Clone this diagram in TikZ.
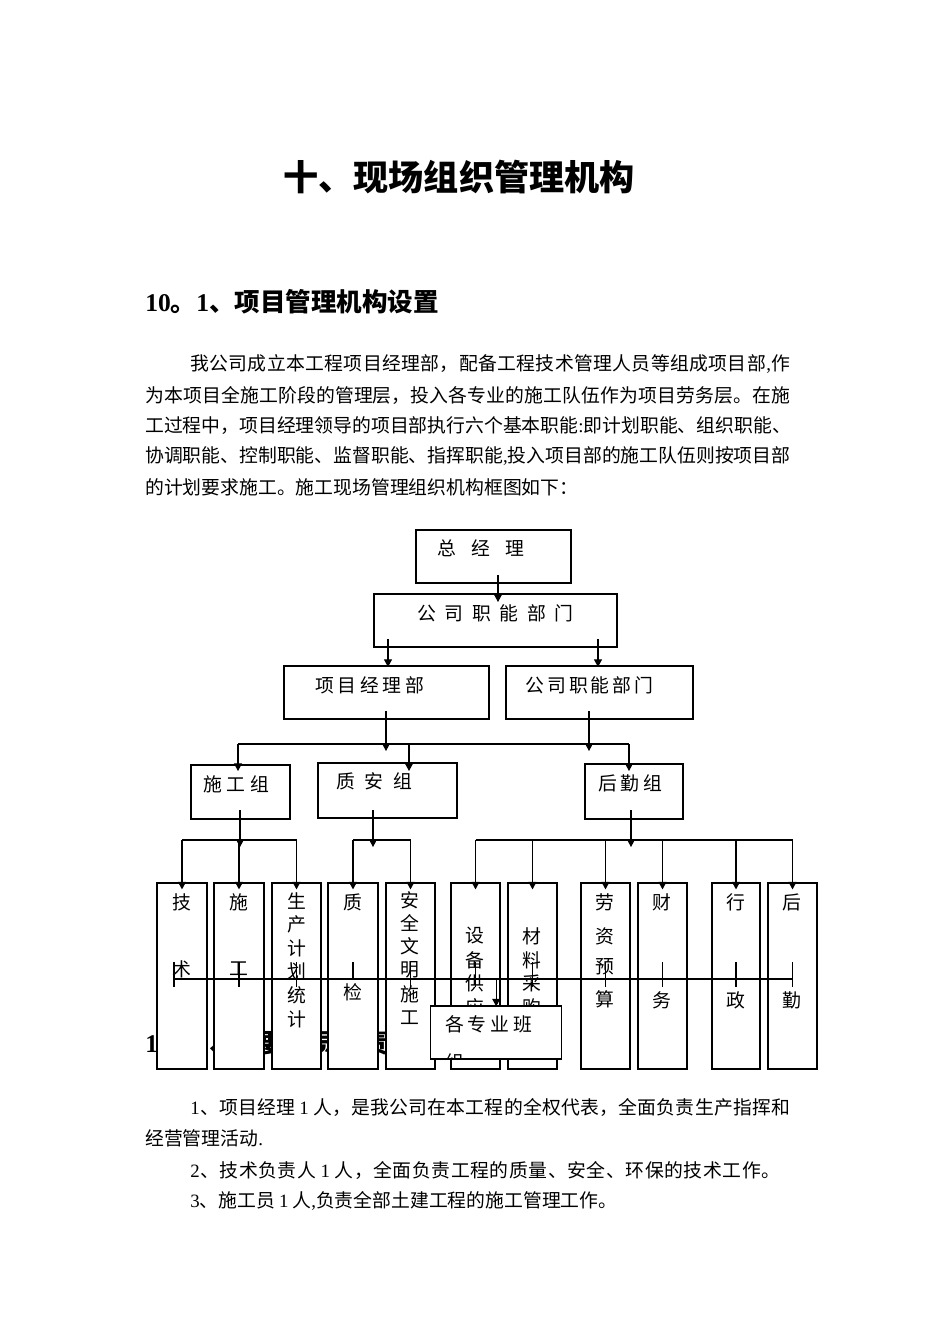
\documentclass[tikz,border=0pt]{standalone}
\usepackage{fontspec}
\setmainfont{Noto Sans CJK SC}
\newfontfamily\lat{Liberation Serif}
\usetikzlibrary{arrows.meta,fit,calc}
\XeTeXlinebreaklocale "zh"
\XeTeXlinebreakskip=0pt plus 8pt
\makeatletter
\def\ls#1#2{\def\ls@gap{#1}\ls@loop#2\relax}
\def\ls@loop#1{\ifx#1\relax\else#1\hspace{\ls@gap}\expandafter\ls@loop\fi}
\def\J#1{\J@first#1\relax}
\def\J@first#1{#1\J@loop}
\def\J@loop#1{\ifx#1\relax\else\hskip0pt plus 1fil\relax#1\expandafter\J@loop\fi}
\def\G{\hskip0pt plus 1fil\relax}
\def\D#1{\G\hspace{2.5pt}{\lat #1}\hspace{2.5pt}\G}
\makeatother
\newcommand\jl[2]{\hbox to #1{#2}}
\newcommand\vcol[3]{\foreach \yy/\cc [count=\k] in {#3} {\node[lbl] (#1-\k) at (#2,\yy) {\cc};}}
\tikzset{
  bx/.style={draw, line width=0.75pt, inner sep=0pt, fill=white},
  lbl/.style={inner sep=0pt, font=\fontsize{11.8pt}{14pt}\selectfont},
  body/.style={inner sep=0pt, anchor=west, font=\fontsize{11.8pt}{14pt}\selectfont},
  ln/.style={line width=0.65pt},
  arr/.style={line width=0.65pt, -{Triangle[length=4.8pt,width=5pt]}},
}
\begin{document}
\begin{tikzpicture}[x=0.62655pt,y=-0.62655pt]
\fill[white] (0,0) rectangle (950,1344);
\useasboundingbox (0,0) rectangle (950,1344);

% ---------- texts ----------
\node[inner sep=0pt, font=\fontsize{22pt}{26pt}\selectfont\bfseries] (title) at (459,177) {十、现场组织管理机构};
\node[body, font=\fontsize{16pt}{20pt}\selectfont\bfseries] (h1) at (145,302) {{\lat\bfseries 10}。{\lat\bfseries 1}、项目管理机构设置};

\node[body] (p1) at (190,364) {\jl{375.9pt}{\J{我公司成立本工程项目经理部，配备工程技术管理人员等组成项目部}\G{\lat ,}\G\J{作}}};
\node[body] (p2) at (145,395) {\jl{404.1pt}{\J{为本项目全施工阶段的管理层，投入各专业的施工队伍作为项目劳务层。在施}}};
\node[body] (p3) at (145,426) {\jl{404.1pt}{\J{工过程中，项目经理领导的项目部执行六个基本职能}\G{\lat :}\G\J{即计划职能、组织职能、}}};
\node[body] (p4) at (145,456) {\jl{404.1pt}{\J{协调职能、控制职能、监督职能、指挥职能}\G{\lat ,}\G\J{投入项目部的施工队伍则按项目部}}};
\node[body] (p5) at (145,487) {的计划要求施工。施工现场管理组织机构框图如下：};

\node[body, font=\fontsize{16pt}{20pt}\selectfont\bfseries] (h2) at (145,1043) {{\lat\bfseries 10}。{\lat\bfseries 2}、主要人员职责};

\node[body] (q1) at (190,1107) {\jl{375.9pt}{{\lat 1}\G\J{、项目经理}\D{1}\J{人，是我公司在本工程的全权代表，全面负责生产指挥和}}};
\node[body] (q2) at (145,1138) {经营管理活动{\lat .}};
\node[body] (q3) at (190,1170) {\jl{369.7pt}{{\lat 2}\G\J{、技术负责人}\D{1}\J{人，全面负责工程的质量、安全、环保的技术工作。}}};
\node[body] (q4) at (190,1201) {\jl{264.4pt}{{\lat 3}\G\J{、施工员}\D{1}\J{人}\G{\lat ,}\G\J{负责全部土建工程的施工管理工作。}}};

% ---------- upper boxes ----------
\node[bx, fit={(416,530) (571,583)}] (gm) {};
\node[lbl, anchor=west] (gm-t) at (437,548) {\ls{9.5pt}{总经理}};
\node[bx, fit={(374,594) (617,647)}] (cf) {};
\node[lbl, anchor=west] (cf-t) at (417,613) {\ls{5.4pt}{公司职能部门}};
\node[bx, fit={(284,666) (489,719)}] (pm) {};
\node[lbl, anchor=west] (pm-t) at (315,685) {\ls{2.3pt}{项目经理部}};
\node[bx, fit={(506,666) (693,719)}] (cf2) {};
\node[lbl, anchor=west] (cf2-t) at (525,685) {\ls{1.9pt}{公司职能部门}};
\node[bx, fit={(191,765) (290,819)}] (sg) {};
\node[lbl, anchor=west] (sg-t) at (203,784) {\ls{3pt}{施工组}};
\node[bx, fit={(318,763) (457,818)}] (qs) {};
\node[lbl, anchor=west] (qs-t) at (336,781) {\ls{6.1pt}{质安组}};
\node[bx, fit={(585,764) (683,819)}] (hq) {};
\node[lbl, anchor=west] (hq-t) at (598,783) {\ls{2.4pt}{后勤组}};

% ---------- bottom boxes ----------
\foreach \n/\xa/\xb in {tech/157/207, sgb/214/264, sc/272/321, zj/328/378, aq/386/435, sb/451/500, cl/508/557, lz/581/630, cw/638/687, xz/712/760, hqb/768/817}
  {\node[bx, fit={(\xa,883) (\xb,1069)}] (\n) {};}
\vcol{techt}{182}{902/技,969/术}
\vcol{sgbt}{239}{902/施,969/工}
\vcol{sct}{297}{901/生,924/产,948/计,971/划,995/统,1019/计}
\vcol{zjt}{353}{902/质,992/检}
\vcol{aqt}{410}{900/安,923/全,946/文,970/明,994/施,1018/工}
\vcol{sbt}{475}{936/设,960/备,983/供,1007/应}
\vcol{clt}{532}{936/材,960/料,983/采,1007/购}
\vcol{lzt}{605}{902/劳,936/资,967/预,999/算}
\vcol{cwt}{662}{902/财,1000/务}
\vcol{xzt}{736}{902/行,1000/政}
\vcol{hqbt}{792}{902/后,1000/勤}

\node[bx, fit={(430.7,1006) (561.7,1059)}] (gz) {};
\begin{scope}
  \clip (432,1007.5) rectangle (560.5,1057.8);
  \node[lbl, anchor=west] (gz-t) at (445,1024) {\ls{2.4pt}{各专业班}};
  \node[lbl, anchor=west] (gz-t2) at (445,1062) {组};
\end{scope}

% ---------- connectors ----------
\coordinate (gm-o) at (498,575);  \coordinate (cf-i) at (498,602);
\draw[arr] (gm-o) -- (cf-i);
\coordinate (cf-o1) at (388,639); \coordinate (pm-i) at (388,667);
\coordinate (cf-o2) at (598,639); \coordinate (cf2-i) at (598,667);
\draw[arr] (cf-o1) -- (pm-i);
\draw[arr] (cf-o2) -- (cf2-i);
\coordinate (pm-o) at (386,711);  \coordinate (pm-e) at (386,751);
\coordinate (cf2-o) at (589,711); \coordinate (cf2-e) at (589,751);
\draw[arr] (pm-o) -- (pm-e);
\draw[arr] (cf2-o) -- (cf2-e);

\coordinate (h1l) at (238,744); \coordinate (h1m) at (409,744); \coordinate (h1r) at (629,744);
\draw[ln] (h1l) -- (h1r);
\coordinate (sg-i) at (238,771); \coordinate (qs-i) at (409,771); \coordinate (hq-i) at (629,771);
\draw[arr] (h1l) -- (sg-i);
\draw[arr] (h1m) -- (qs-i);
\draw[arr] (h1r) -- (hq-i);

\coordinate (sg-o) at (240,810); \coordinate (sg-e) at (240,847);
\coordinate (qs-o) at (373,810); \coordinate (qs-e) at (373,847);
\coordinate (hq-o) at (631,810); \coordinate (hq-e) at (631,847);
\draw[arr] (sg-o) -- (sg-e);
\draw[arr] (qs-o) -- (qs-e);
\draw[arr] (hq-o) -- (hq-e);

\coordinate (h2) at (0,840);
\draw[ln] (tech.north |- h2) -- (sc.north |- h2);
\draw[ln] (zj.north |- h2) -- (aq.north |- h2);
\draw[ln] (sb.north |- h2) -- (hqb.north |- h2);
\foreach \n in {tech, sgb, sc, zj, aq, sb, cl, lz, cw, xz, hqb}
  {\draw[arr] (\n.north |- h2) -- ($(\n.north)+(0,7)$);}

\coordinate (tt) at (0,962); \coordinate (tm) at (0,979); \coordinate (tb) at (0,987);
\coordinate (tl) at (174,979);
\draw[ln] (tl) -- (hqb.center |- tm);
\draw[ln] (tl |- tt) -- (tl |- tb);
\foreach \n in {sgb, sc, aq, sb, cl, lz, cw, xz, hqb}
  {\draw[ln] (\n.center |- tt) -- (\n.center |- tb);}
\draw[ln] (zj.center |- tt) -- (zj.center |- tm);
\draw[arr] (gz.north |- tm) -- ($(gz.north)+(0,1)$);
\end{tikzpicture}
\end{document}
